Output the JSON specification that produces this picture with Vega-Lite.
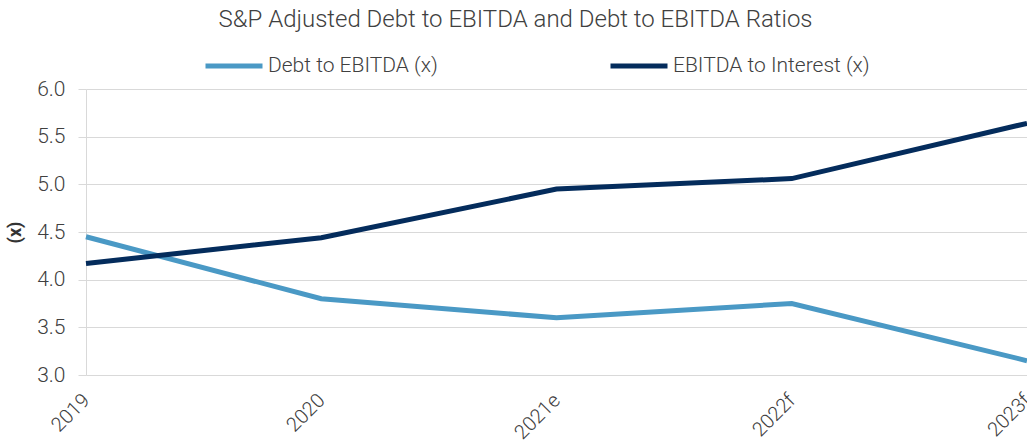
{
  "$schema": "https://vega.github.io/schema/vega-lite/v6.json",
  "autosize": {"type": "none"},
  "width": 941,
  "height": 286,
  "padding": {"left": 86, "top": 89, "right": 0, "bottom": 68},
  "background": "white",
  "config": {
    "font": "Roboto",
    "view": {"stroke": null}
  },
  "title": {
    "text": "S&P Adjusted Debt to EBITDA and Debt to EBITDA Ratios",
    "anchor": "middle",
    "frame": "group",
    "dx": -41,
    "offset": 3,
    "fontSize": 24,
    "fontWeight": 300,
    "color": "#404040",
    "font": "Roboto"
  },
  "data": {
    "values": [
      {"year": "2019", "series": "Debt to EBITDA (x)", "value": 4.45},
      {"year": "2020", "series": "Debt to EBITDA (x)", "value": 3.8},
      {"year": "2021e", "series": "Debt to EBITDA (x)", "value": 3.6},
      {"year": "2022f", "series": "Debt to EBITDA (x)", "value": 3.75},
      {"year": "2023f", "series": "Debt to EBITDA (x)", "value": 3.15},
      {"year": "2019", "series": "EBITDA to Interest (x)", "value": 4.17},
      {"year": "2020", "series": "EBITDA to Interest (x)", "value": 4.44},
      {"year": "2021e", "series": "EBITDA to Interest (x)", "value": 4.95},
      {"year": "2022f", "series": "EBITDA to Interest (x)", "value": 5.06},
      {"year": "2023f", "series": "EBITDA to Interest (x)", "value": 5.64}
    ]
  },
  "mark": {"type": "line", "strokeWidth": 5, "clip": false},
  "encoding": {
    "x": {
      "field": "year",
      "type": "ordinal",
      "scale": {"type": "point", "padding": 0},
      "axis": {
        "title": null,
        "labelAngle": -45,
        "labelAlign": "right",
        "labelBaseline": "middle",
        "labelFontSize": 20,
        "labelFontWeight": 300,
        "labelColor": "#404040",
        "labelPadding": 22,
        "ticks": false,
        "domain": false,
        "grid": false
      }
    },
    "y": {
      "field": "value",
      "type": "quantitative",
      "scale": {"domain": [3, 6], "nice": false, "zero": false},
      "axis": {
        "title": "(x)",
        "titleFontSize": 18,
        "titleFontWeight": "bold",
        "titleColor": "#333333",
        "titlePadding": 12,
        "values": [3, 3.5, 4, 4.5, 5, 5.5, 6],
        "format": ".1f",
        "labelFontSize": 21,
        "labelFontWeight": 300,
        "labelColor": "#404040",
        "labelPadding": 13,
        "tickSize": 8,
        "tickColor": "#d9d9d9",
        "domain": true,
        "domainColor": "#d9d9d9",
        "gridColor": "#d9d9d9",
        "gridWidth": 1
      }
    },
    "color": {
      "field": "series",
      "type": "nominal",
      "scale": {
        "domain": ["Debt to EBITDA (x)", "EBITDA to Interest (x)"],
        "range": ["#4a99c5", "#042c5c"]
      },
      "legend": {
        "title": null,
        "orient": "none",
        "direction": "horizontal",
        "legendX": 117,
        "legendY": -54,
        "symbolType": "stroke",
        "symbolSize": 3249,
        "symbolStrokeWidth": 5,
        "labelFontSize": 21,
        "labelFontWeight": 300,
        "labelColor": "#404040",
        "labelOffset": 3,
        "labelLimit": 0,
        "columnPadding": 162
      }
    }
  }
}
